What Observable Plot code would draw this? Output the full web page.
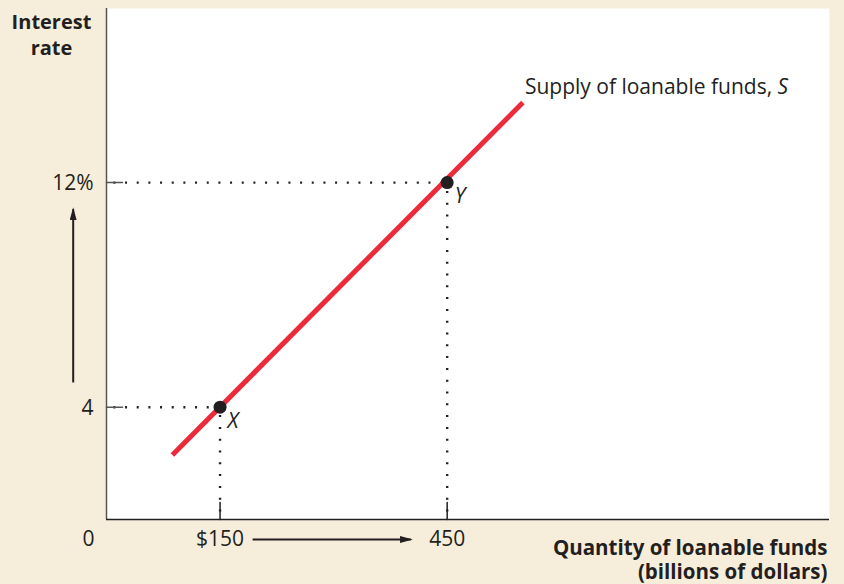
<!DOCTYPE html>
<html><head><meta charset="utf-8">
<script src="https://cdn.jsdelivr.net/npm/d3@7"></script>
<script src="https://cdn.jsdelivr.net/npm/@observablehq/plot@0.6"></script>
<style>
html,body{margin:0;padding:0;background:#f6eddb;}
#chart svg{display:block}
</style></head><body><div id="chart"></div>
<script>
// ---- data ----
const pointLabels = ["X", "Y"];
const quantity = [150, 450];          // billions of dollars
const rate = [4, 12];                 // percent
const supplyQ = [87, 550];            // supply curve end points (quantity)
const supplyR = [2.3, 14.85];         // supply curve end points (rate)
const xTickValues = [150, 450];
const xTickLabels = ["$150", "450"];
const yTickValues = [4, 12];
const yTickLabels = ["4", "12%"];
const originLabel = "0";
const supplyLabel = "Supply of loanable funds, S";
const yTitle = "Interest\nrate";
const xTitle = "Quantity of loanable funds\n(billions of dollars)";
// direction arrows (annotation, in data units, drawn in the margins)
const upArrowQ = [-44, -44];
const upArrowR = [4.88, 11.05];
const rightArrowQ = [193, 402];
const rightArrowR = [-0.71, -0.71];

const INK = "#231f20";
const RED = "#ec2a3a";

const points = quantity.map((q, i) => ({q, r: rate[i], label: pointLabels[i]}));
const supply = supplyQ.map((q, i) => ({q, r: supplyR[i]}));
const xTicks = xTickValues.map((v, i) => ({v, label: xTickLabels[i]}));
const yTicks = yTickValues.map((v, i) => ({v, label: yTickLabels[i]}));
const arrows = [
  {x1: upArrowQ[0], x2: upArrowQ[1], y1: upArrowR[0], y2: upArrowR[1]},
  {x1: rightArrowQ[0], x2: rightArrowQ[1], y1: rightArrowR[0], y2: rightArrowR[1]}
];

const tickShape = {draw(ctx, l) { ctx.moveTo(0, 0); ctx.lineTo(0, -l); }};

function filledArrow(color, context) {
  const m = d3.create("svg:marker")
    .attr("viewBox", "-11 -3.5 13 7")
    .attr("markerWidth", 13)
    .attr("markerHeight", 7)
    .attr("markerUnits", "userSpaceOnUse")
    .attr("refX", 0).attr("refY", 0)
    .attr("orient", "auto")
    .attr("fill", color).attr("stroke", "none");
  m.append("path").attr("d", "M-11,-3.5L2,0L-11,3.5Z");
  return m.node();
}

const chart = Plot.plot({
  width: 844,
  height: 584,
  marginLeft: 106,
  marginRight: 15,
  marginTop: 8,
  marginBottom: 65,
  x: {domain: [0, 955], axis: null},
  y: {domain: [0, 18.2], axis: null},
  style: {fontFamily: "'Open Sans', sans-serif", fontSize: "20px", background: "transparent", color: INK},
  marks: [
    Plot.frame({fill: "white", stroke: "none"}),
    Plot.ruleX([0], {stroke: "#555", strokeWidth: 1.5}),
    Plot.ruleY([0], {stroke: INK, strokeWidth: 1.5}),
    // dotted guides
    Plot.ruleY(points, {y: "r", x1: 0, x2: "q", stroke: INK, strokeWidth: 2.4, strokeDasharray: "2 9.67", strokeDashoffset: 4.3}),
    Plot.ruleX(points, {x: "q", y1: 0, y2: "r", stroke: INK, strokeWidth: 2.4, strokeDasharray: "2 9.8", strokeDashoffset: 4.3}),
    // short solid ticks
    Plot.vector(yTicks, {y: "v", frameAnchor: "left", length: 16, rotate: 90, anchor: "start", shape: tickShape, stroke: "#555", strokeWidth: 1.5}),
    Plot.vector(xTicks, {x: "v", frameAnchor: "bottom", length: 17, rotate: 0, anchor: "start", shape: tickShape, stroke: INK, strokeWidth: 1.5}),
    // supply curve
    Plot.line(supply, {x: "q", y: "r", stroke: RED, strokeWidth: 5, strokeLinecap: "butt"}),
    Plot.dot(points, {x: "q", y: "r", r: 6.5, fill: INK, stroke: "none"}),
    Plot.text(points, {x: "q", y: "r", text: "label", dx: 13, dy: 14, fontStyle: "italic", fontSize: 21, fill: INK}),
    Plot.text([supplyLabel], {x: supplyQ[1], y: supplyR[1], text: d => d, dx: 2, dy: -15, textAnchor: "start", lineAnchor: "middle", fontSize: 21, fill: INK}),
    // tick labels
    Plot.text(yTicks, {y: "v", frameAnchor: "left", text: "label", dx: -13, dy: 1, textAnchor: "end", lineAnchor: "middle", fontSize: 21, fill: INK}),
    Plot.text(xTicks, {x: "v", frameAnchor: "bottom", text: "label", dy: 20, textAnchor: "middle", lineAnchor: "middle", fontSize: 21, fill: INK}),
    Plot.text([originLabel], {frameAnchor: "bottom-left", text: d => d, dx: -18, dy: 20, textAnchor: "middle", lineAnchor: "middle", fontSize: 21, fill: INK}),
    // titles
    Plot.text([yTitle], {frameAnchor: "top-left", text: d => d, dx: -55, dy: 2, textAnchor: "middle", lineAnchor: "top", lineHeight: 1.3, fontWeight: "bold", fontSize: 20, fill: INK}),
    Plot.text([xTitle], {frameAnchor: "bottom-right", text: d => d, dx: -2, dy: 18, textAnchor: "end", lineAnchor: "top", lineHeight: 1.18, fontWeight: "bold", fontSize: 20.5, fill: INK}),
    // arrows
    Plot.link(arrows, {x1: "x1", y1: "y1", x2: "x2", y2: "y2", stroke: INK, strokeWidth: 2, markerEnd: filledArrow})
  ]
});

// italic "S" in the supply label
const t = [...chart.querySelectorAll("text")].find(n => n.textContent === supplyLabel);
if (t) {
  t.textContent = "";
  const ns = "http://www.w3.org/2000/svg";
  const a = document.createElementNS(ns, "tspan");
  a.textContent = supplyLabel.slice(0, -1);
  a.setAttribute("style", "white-space:pre");
  const b = document.createElementNS(ns, "tspan");
  b.textContent = supplyLabel.slice(-1);
  b.setAttribute("font-style", "italic");
  t.append(a, b);
}
document.getElementById("chart").append(chart);
</script>
</body></html>
